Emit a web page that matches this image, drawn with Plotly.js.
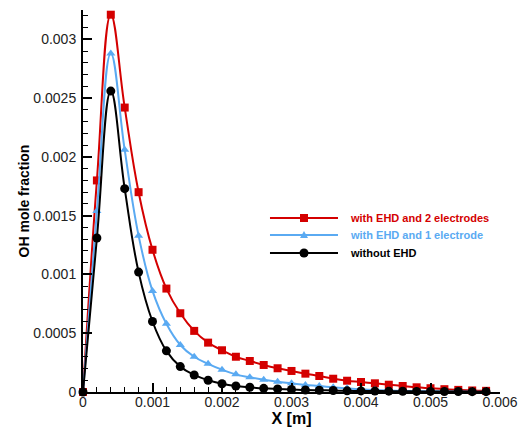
<!DOCTYPE html>
<html>
<head>
<meta charset="utf-8">
<script src="https://cdn.plot.ly/plotly-3.0.1.min.js"></script>
<style>html,body{margin:0;padding:0;background:#fff;}#chart{width:524px;height:431px;}</style>
</head>
<body>
<div id="chart"></div>
<script>
// Data (X in m, OH mole fraction)
var xPos = [0,0.0002,0.0004,0.0006,0.0008,0.0010,0.0012,0.0014,0.0016,0.0018,
            0.0020,0.0022,0.0024,0.0026,0.0028,0.0030,0.0032,0.0034,0.0036,0.0038,
            0.0040,0.0042,0.0044,0.0046,0.0048,0.0050,0.0052,0.0054,0.0056,0.0058];
var ohTwoElectrodes = [0,0.0018,0.00321,0.00242,0.0017,0.00121,0.00088,0.00067,0.00052,0.00042,
            0.000355,0.0003,0.000264,0.00023,0.000202,0.000179,0.000156,0.000136,0.000113,0.000096,
            0.000085,0.000074,0.000062,0.000051,0.00004,0.000032,0.000024,0.000018,0.000013,0.00001];
var ohOneElectrode = [0,0.00154,0.00288,0.00206,0.00133,0.00086,0.00058,0.0004,0.0003,0.00024,
            0.00019,0.00015,0.000125,0.000105,0.000088,0.000074,0.00006,0.000051,0.00004,0.000031,
            0.000023,0.000017,0.000013,0.00001,0.000008,0.000006,0.000005,0.000004,0.000003,0.000003];
var ohNoEHD = [0,0.00131,0.00256,0.00173,0.00102,0.0006,0.00035,0.000216,0.000145,0.0001,
            0.00007,0.000051,0.00004,0.000031,0.000026,0.000022,0.000017,0.000015,0.000013,0.00001,
            0.000009,0.000008,0.000007,0.000006,0.000005,0.000005,0.000004,0.000004,0.000003,0.000003];
var seriesNames = ["with EHD and 2 electrodes","with EHD and 1 electrode","without EHD"];
var xTitle = "X [m]";
var yTitle = "OH mole fraction";

var RED = "#d40000", BLUE = "#5aaaf2", BLACK = "#000000";

function tr(y, name, color, symbol, size){
  return {x: xPos, y: y, name: name, type: "scatter", mode: "lines+markers",
    line: {color: color, width: 2, shape: "spline", smoothing: 1.2},
    marker: {color: color, symbol: symbol, size: size, line: {width: 0}},
    cliponaxis: false, showlegend: false};
}
var data = [
  tr(ohTwoElectrodes, seriesNames[0], RED, "square", 8),
  tr(ohOneElectrode, seriesNames[1], BLUE, "triangle-up", 8),
  tr(ohNoEHD, seriesNames[2], BLACK, "circle", 9)
];

// custom legend (paper coordinates)
var legY = [0.4555, 0.411, 0.3639];
var legColors = [RED, BLUE, BLACK];
var shapes = [], annotations = [];
for (var i = 0; i < 3; i++) {
  shapes.push({type: "line", xref: "paper", yref: "paper", x0: 0.4484, x1: 0.6115, y0: legY[i], y1: legY[i],
    line: {color: legColors[i], width: 2}});
  annotations.push({xref: "paper", yref: "paper", x: 0.6355, y: legY[i], xanchor: "left", yanchor: "middle",
    showarrow: false, text: "<b>" + seriesNames[i] + "</b>",
    font: {family: "Liberation Sans, Arial, sans-serif", size: 11, color: legColors[i]}});
}
shapes.push({type: "rect", xref: "paper", yref: "paper", xsizemode: "pixel", ysizemode: "pixel",
  xanchor: 0.53, yanchor: legY[0], x0: -4, x1: 4, y0: -4, y1: 4, fillcolor: RED, line: {width: 0}});
shapes.push({type: "path", xref: "paper", yref: "paper", xsizemode: "pixel", ysizemode: "pixel",
  xanchor: 0.53, yanchor: legY[1], path: "M-4,-3 L4,-3 L0,4 Z", fillcolor: BLUE, line: {width: 0}});
shapes.push({type: "circle", xref: "paper", yref: "paper", xsizemode: "pixel", ysizemode: "pixel",
  xanchor: 0.53, yanchor: legY[2], x0: -4.5, x1: 4.5, y0: -4.5, y1: 4.5, fillcolor: BLACK, line: {width: 0}});

var tickFont = {family: "Liberation Sans, Arial, sans-serif", size: 14, color: "#222"};
var layout = {
  width: 524, height: 431,
  margin: {l: 83, r: 24, t: 10, b: 39, pad: 0},
  paper_bgcolor: "#fff", plot_bgcolor: "#fff",
  showlegend: false,
  xaxis: {range: [0, 0.006], dtick: 0.001, tick0: 0, tickformat: ".3~f",
    showgrid: false, zeroline: false, showline: true, linecolor: "#000", linewidth: 2,
    ticks: "inside", ticklen: 9, tickwidth: 2, tickcolor: "#000",
    minor: {dtick: 0.0002, ticks: "inside", ticklen: 5, tickwidth: 1, tickcolor: "#000", showgrid: false},
    tickfont: tickFont, ticklabelstandoff: -4,
    title: {text: "<b>" + xTitle + "</b>", font: {family: "Liberation Sans, Arial, sans-serif", size: 16, color: "#000"}, standoff: 0}},
  yaxis: {range: [0, 0.00325], dtick: 0.0005, tick0: 0, tickformat: ".4~f",
    showgrid: false, zeroline: false, showline: true, linecolor: "#000", linewidth: 2,
    ticks: "inside", ticklen: 9, tickwidth: 2, tickcolor: "#000",
    minor: {dtick: 0.0001, ticks: "inside", ticklen: 5, tickwidth: 1, tickcolor: "#000", showgrid: false},
    tickfont: tickFont, ticklabelstandoff: 2,
    title: {text: "<b>" + yTitle + "</b>", font: {family: "Liberation Sans, Arial, sans-serif", size: 14, color: "#000"}, standoff: 0}},
  shapes: shapes,
  annotations: annotations
};
Plotly.newPlot("chart", data, layout, {displayModeBar: false, staticPlot: true});
</script>
</body>
</html>
